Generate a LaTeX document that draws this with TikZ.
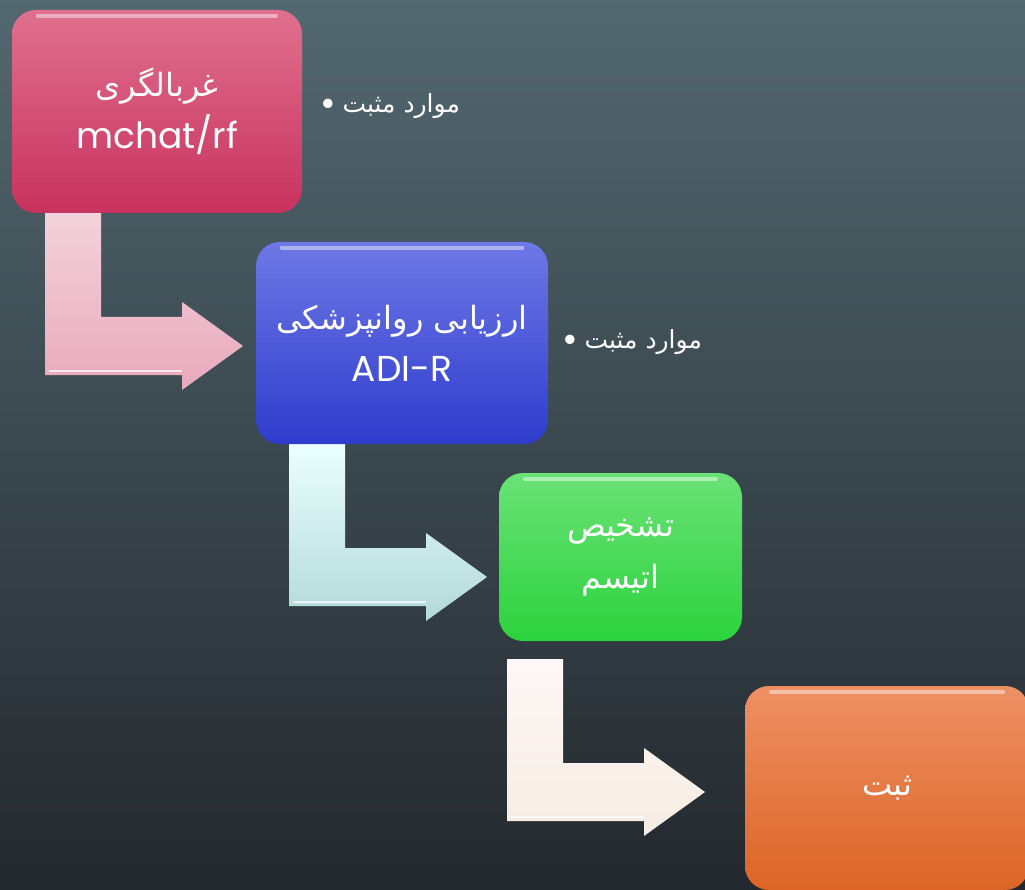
\documentclass[tikz,border=0pt]{standalone}
\usepackage[rgb]{xcolor}
\usepackage{fontspec}
\setmainfont{Poppins}
\newfontfamily\fa[Script=Arabic]{DejaVu Sans}
\TeXXeTstate=1
\usepackage{tikz}

\definecolor{bgtop}{HTML}{536870}
\definecolor{bgbot}{HTML}{23282E}
\definecolor{pinktop}{HTML}{E0708E}
\definecolor{pinkbot}{HTML}{C8325E}
\definecolor{bluetop}{HTML}{6E78E6}
\definecolor{bluebot}{HTML}{2E3CCC}
\definecolor{greentop}{HTML}{6AE276}
\definecolor{greenbot}{HTML}{2CD23E}
\definecolor{orangetop}{HTML}{EE9064}
\definecolor{orangebot}{HTML}{DC6426}

\newcommand{\fatext}[1]{{\fa\beginR #1\endR}}
\newcommand{\faline}[1]{{\fontsize{32}{50}\selectfont\fatext{#1}}}
\newcommand{\bigdot}{\raisebox{-4pt}{\fontsize{38}{30}\selectfont\textbullet}}

% bent arrow, #1 = top left corner of the vertical bar
\newcommand{\bentarrow}[3]{%
\shade[top color=#2, bottom color=#3, shift={(#1)}]
 (0,0) -- (56,0) -- (56,104) -- (137,104) -- (137,89) -- (198,133)
 -- (137,177) -- (137,162) -- (0,162) -- cycle;
\draw[white, opacity=0.7, line width=2, shift={(#1)}]
 (4,158) -- (137,158);
}

\tikzset{
 stepbox/.style={rounded corners=24, text=white, align=center,
   font=\fontsize{36}{52}\selectfont, inner sep=0},
 posnote/.style={text=white, anchor=west, inner sep=0,
   font=\fontsize{25}{30}\selectfont},
 gloss/.style={white, opacity=0.45, line width=4, line cap=round},
}

\begin{document}
\begin{tikzpicture}[x=1pt, y=-1pt]

\useasboundingbox (0,0) rectangle (1025,890);
\clip (0,0) rectangle (1025,890);
\shade[top color=bgtop, bottom color=bgbot] (0,0) rectangle (1025,890);

% arrows between the steps
\coordinate (a1) at (45,213);
\coordinate (a2) at (289,444);
\coordinate (a3) at (507,659);
\bentarrow{a1}{pinkbot!22!white}{pinkbot!42!white}
\bentarrow{a2}{cyan!8!white}{teal!30!white}
\bentarrow{a3}{red!3!white}{brown!15!white}

% steps
\node[stepbox, top color=pinktop, bottom color=pinkbot,
 minimum width=290, minimum height=203] (screen) at (157,111.5)
 {\faline{غربالگری}\\mchat/rf};
\node[stepbox, top color=bluetop, bottom color=bluebot,
 minimum width=292, minimum height=202] (psych) at (402,343)
 {\faline{ارزیابی روانپزشکی}\\ADI-R};
\node[stepbox, top color=greentop, bottom color=greenbot,
 minimum width=243, minimum height=168] (diag) at (620.5,557)
 {\faline{تشخیص}\\\faline{اتیسم}};
\node[stepbox, top color=orangetop, bottom color=orangebot,
 minimum width=284, minimum height=204] (record) at (887,788)
 {\faline{ثبت}};

% glossy edges
\foreach \b in {screen, psych, diag, record}{
 \draw[gloss] ([xshift=26,yshift=-6]\b.north west) -- ([xshift=-26,yshift=-6]\b.north east);
}

% positive cases
\node[posnote] (pos1) at (320,106) {\bigdot\ \fatext{موارد مثبت}};
\node[posnote] (pos2) at (562,342) {\bigdot\ \fatext{موارد مثبت}};

\end{tikzpicture}
\end{document}
